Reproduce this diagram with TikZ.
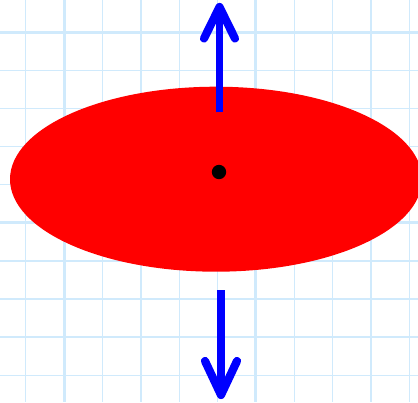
\documentclass[tikz,border=0pt]{standalone}
\usepackage{tikz}
\definecolor{gridblue}{RGB}{208,234,252}
\tikzset{
  thingrid/.style={draw=gridblue, line width=1.4pt},
  thickgrid/.style={draw=gridblue, line width=3pt},
  arrowshaft/.style={draw=blue, line width=7.8pt, line cap=butt},
  arrowhead/.style={draw=blue, line width=8.2pt, line cap=round, line join=round},
}
\begin{document}
\begin{tikzpicture}[x=1pt,y=-1pt]
\useasboundingbox (0,0) rectangle (418,402);
\begin{scope}
\clip (0,0) rectangle (418,402);
% grid
\foreach \k in {0,...,10}{
  \pgfmathsetmacro{\xx}{25.7+38.38*\k}
  \ifnum\k=1 \draw[thickgrid] (\xx,0) -- (\xx,402);
  \else\ifnum\k=6 \draw[thickgrid] (\xx,0) -- (\xx,402);
  \else \draw[thingrid] (\xx,0) -- (\xx,402); \fi\fi
}
\foreach \k in {0,...,9}{
  \pgfmathsetmacro{\yy}{32.3+38.1*\k}
  \ifnum\k=0 \draw[thickgrid] (0,\yy) -- (418,\yy);
  \else\ifnum\k=5 \draw[thickgrid] (0,\yy) -- (418,\yy);
  \else \draw[thingrid] (0,\yy) -- (418,\yy); \fi\fi
}
% ellipse
\fill[red] (216,179.2) ellipse [x radius=206, y radius=92.5];
\end{scope}
% dot
\fill[black] (219,172) circle [radius=7.2];
% up arrow
\coordinate (utip) at (219.5,7);
\coordinate (ubase) at (219.5,112.3);
\draw[arrowshaft] (ubase) -- (utip);
\draw[arrowhead] (204,38.5) -- (utip) -- (235,38.5);
% down arrow
\coordinate (dtip) at (221,395);
\coordinate (dbase) at (221,290);
\draw[arrowshaft] (dbase) -- (dtip);
\draw[arrowhead] (205,361) -- (dtip) -- (237,361);
\end{tikzpicture}
\end{document}
